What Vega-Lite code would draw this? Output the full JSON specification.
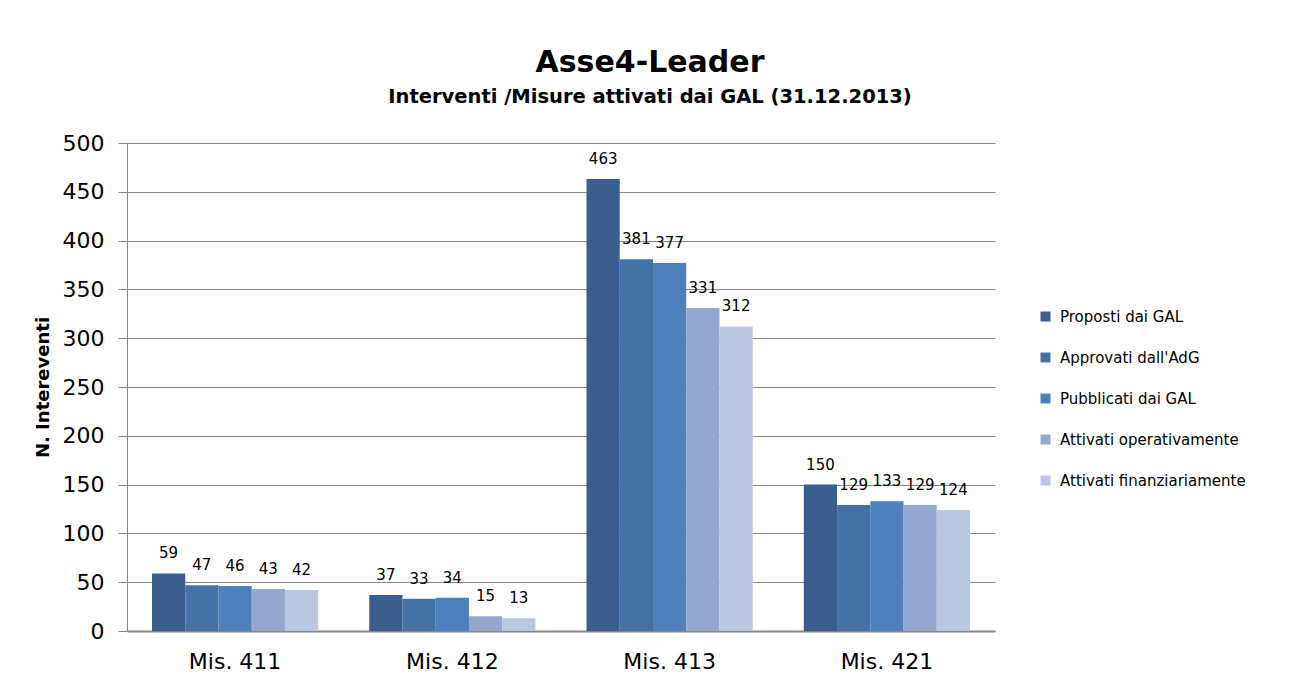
{
  "$schema": "https://vega.github.io/schema/vega-lite/v6.json",
  "width": 868,
  "height": 488,
  "autosize": {"type": "none"},
  "padding": {"left": 127, "top": 143, "right": 299, "bottom": 64},
  "background": "white",
  "title": {
    "text": "Asse4-Leader",
    "subtitle": "Interventi /Misure attivati dai GAL (31.12.2013)",
    "anchor": "middle",
    "dx": 89,
    "offset": 26,
    "font": "DejaVu Sans",
    "fontSize": 30,
    "fontWeight": "bold",
    "color": "#000000",
    "subtitleFont": "DejaVu Sans",
    "subtitleFontSize": 19.5,
    "subtitleFontWeight": "bold",
    "subtitleColor": "#000000",
    "subtitlePadding": 10
  },
  "data": {
    "values": [
      {"misura": "Mis. 411", "serie": "Proposti dai GAL", "valore": 59},
      {"misura": "Mis. 411", "serie": "Approvati dall'AdG", "valore": 47},
      {"misura": "Mis. 411", "serie": "Pubblicati dai GAL", "valore": 46},
      {"misura": "Mis. 411", "serie": "Attivati operativamente", "valore": 43},
      {"misura": "Mis. 411", "serie": "Attivati finanziariamente", "valore": 42},
      {"misura": "Mis. 412", "serie": "Proposti dai GAL", "valore": 37},
      {"misura": "Mis. 412", "serie": "Approvati dall'AdG", "valore": 33},
      {"misura": "Mis. 412", "serie": "Pubblicati dai GAL", "valore": 34},
      {"misura": "Mis. 412", "serie": "Attivati operativamente", "valore": 15},
      {"misura": "Mis. 412", "serie": "Attivati finanziariamente", "valore": 13},
      {"misura": "Mis. 413", "serie": "Proposti dai GAL", "valore": 463},
      {"misura": "Mis. 413", "serie": "Approvati dall'AdG", "valore": 381},
      {"misura": "Mis. 413", "serie": "Pubblicati dai GAL", "valore": 377},
      {"misura": "Mis. 413", "serie": "Attivati operativamente", "valore": 331},
      {"misura": "Mis. 413", "serie": "Attivati finanziariamente", "valore": 312},
      {"misura": "Mis. 421", "serie": "Proposti dai GAL", "valore": 150},
      {"misura": "Mis. 421", "serie": "Approvati dall'AdG", "valore": 129},
      {"misura": "Mis. 421", "serie": "Pubblicati dai GAL", "valore": 133},
      {"misura": "Mis. 421", "serie": "Attivati operativamente", "valore": 129},
      {"misura": "Mis. 421", "serie": "Attivati finanziariamente", "valore": 124}
    ]
  },
  "encoding": {
    "x": {
      "field": "misura",
      "type": "nominal",
      "scale": {"paddingInner": 0.235, "paddingOuter": 0.115},
      "axis": {
        "title": null,
        "labelAngle": 0,
        "labelFont": "DejaVu Sans",
        "labelFontSize": 22,
        "labelColor": "#000000",
        "labelPadding": 20,
        "ticks": false,
        "domainColor": "#868686",
        "domainWidth": 2
      }
    },
    "xOffset": {
      "field": "serie",
      "type": "nominal",
      "sort": ["Proposti dai GAL", "Approvati dall'AdG", "Pubblicati dai GAL", "Attivati operativamente", "Attivati finanziariamente"],
      "scale": {"paddingInner": 0, "paddingOuter": 0}
    },
    "y": {
      "field": "valore",
      "type": "quantitative",
      "scale": {"domain": [0, 500], "nice": false},
      "axis": {
        "title": "N. Intereventi",
        "titleFont": "DejaVu Sans",
        "titleFontSize": 18,
        "titleFontWeight": "bold",
        "titleColor": "#000000",
        "titlePadding": 10,
        "values": [0, 50, 100, 150, 200, 250, 300, 350, 400, 450, 500],
        "labelFont": "DejaVu Sans",
        "labelFontSize": 22,
        "labelColor": "#000000",
        "labelPadding": 14,
        "tickSize": 9,
        "tickColor": "#868686",
        "domainColor": "#868686",
        "grid": true,
        "gridColor": "#868686",
        "gridWidth": 1
      }
    }
  },
  "layer": [
    {
      "mark": {"type": "bar"},
      "encoding": {
        "color": {
          "field": "serie",
          "type": "nominal",
          "sort": ["Proposti dai GAL", "Approvati dall'AdG", "Pubblicati dai GAL", "Attivati operativamente", "Attivati finanziariamente"],
          "scale": {
            "domain": ["Proposti dai GAL", "Approvati dall'AdG", "Pubblicati dai GAL", "Attivati operativamente", "Attivati finanziariamente"],
            "range": ["#3A5F8E", "#4472A7", "#4E80BD", "#94A8CF", "#BAC7E0"]
          },
          "legend": {
            "title": null,
            "orient": "none",
            "legendX": 911,
            "legendY": 166,
            "symbolType": "square",
            "symbolSize": 100,
            "symbolStrokeWidth": 0,
            "labelFont": "DejaVu Sans",
            "labelFontSize": 15,
            "labelColor": "#000000",
            "labelLimit": 300,
            "rowPadding": 25,
            "labelOffset": 7
          }
        }
      }
    },
    {
      "mark": {"type": "text", "baseline": "bottom", "dy": -12, "font": "DejaVu Sans", "fontSize": 15, "color": "#000000"},
      "encoding": {
        "text": {"field": "valore", "type": "quantitative"}
      }
    }
  ],
  "config": {
    "view": {"stroke": null}
  }
}
